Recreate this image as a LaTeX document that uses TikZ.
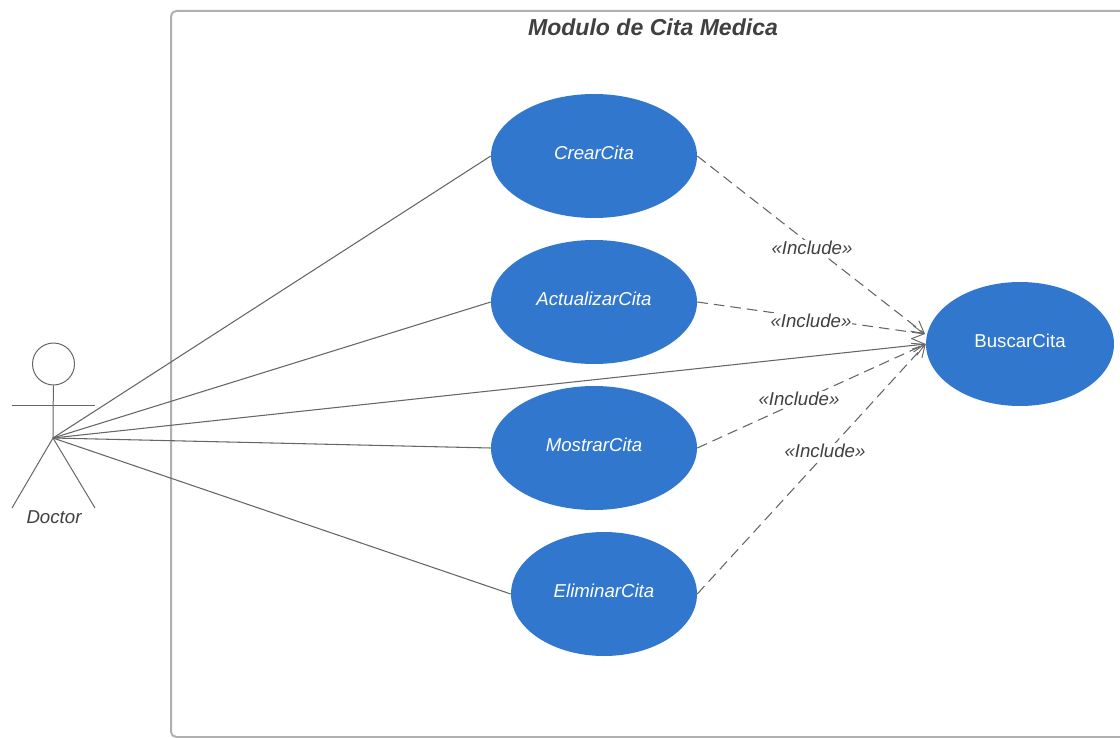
\documentclass[tikz,border=0pt]{standalone}
\usepackage{fontspec}
\setmainfont{Liberation Sans}
\usetikzlibrary{arrows.meta}
\usetikzlibrary{positioning, shapes.geometric}
\definecolor{usecaseblue}{HTML}{3177CE}
\definecolor{inkgray}{HTML}{404040}
\definecolor{linegray}{HTML}{666666}
\definecolor{framegray}{HTML}{B0B0B0}
\tikzset{
	usecase/.style = {
		ellipse,
		fill=usecaseblue,
		text=white,
		inner sep=0mm,
		minimum height=93pt,
		text height=10pt,
		text depth=4.5pt,
		font=\fontsize{14}{16}\selectfont\itshape
	},
	limb/.style = {
		draw=linegray,
		line width=0.75pt
	},
	assoc/.style = {
		draw=linegray,
		line width=0.8pt
	},
	incl/.style = {
		draw=linegray,
		line width=0.8pt,
		dash pattern=on 8pt off 4.5pt,
		-{Straight Barb[length=9pt,width=10pt,line width=0.7pt]}
	},
	incllabel/.style = {
		fill=white,
		text=inkgray,
		inner sep=0.5pt,
		font=\fontsize{14}{16}\selectfont\itshape
	}
}

\begin{document}
\begin{tikzpicture}[
		x=0.75pt,
		y=-0.75pt,
	]

	% The canvas, in pixels of the reference
	\useasboundingbox (0,0) rectangle (1120,738);

	% Draw the system frame
	\draw[framegray, line width=1.5pt, rounded corners=4pt]
		(1120,11) -- (171,11) -- (171,737) -- (1120,737);
	\node (title) [text=inkgray, font=\fontsize{17.3}{20}\selectfont\bfseries\itshape] at (653,27)
		{Modulo de Cita Medica};

	% Draw the actor
	\node (head) [circle, draw=linegray, line width=0.75pt, minimum size=31.5pt, inner sep=0mm] at (53.5,364) {};
	\coordinate (hip) at (53,438);
	\coordinate (handl) at (12,405);
	\coordinate (handr) at (95,405);
	\coordinate (footl) at (12,508);
	\coordinate (footr) at (95,508);
	\draw[limb] (head) -- (hip);
	\draw[limb] (handl) -- (handr);
	\draw[limb] (footl) -- (hip) -- (footr);
	\node (doctor) [text=inkgray, font=\fontsize{14}{16}\selectfont\itshape] at (54,517) {Doctor};

	% Draw the use cases
	\node (crear) [usecase, minimum width=154.5pt] at (594,156) {CrearCita};
	\node (actualizar) [usecase, minimum width=154.5pt] at (594,302) {ActualizarCita};
	\node (mostrar) [usecase, minimum width=154.5pt] at (594,448) {MostrarCita};
	\node (eliminar) [usecase, minimum width=139.5pt] at (604,594) {EliminarCita};
	\node (buscar) [usecase, minimum width=141pt, font=\fontsize{14}{16}\selectfont] at (1020,344) {BuscarCita};

	% Where the upper includes arrive
	\coordinate (buscartop) at (925,334);

	% Doctor to the use cases
	\draw[assoc] (hip) -- (crear.west);
	\draw[assoc] (hip) -- (actualizar.west);
	\draw[assoc] (hip) -- (mostrar.west);
	\draw[assoc] (hip) -- (eliminar.west);
	\draw[assoc, -{Straight Barb[length=9pt,width=10pt,line width=0.7pt]}] (hip) -- (buscar.west);

	% The includes
	\draw[incl] (crear.east) -- (buscartop);
	\draw[incl] (actualizar.east) -- (buscartop);
	\draw[incl] (mostrar.east) -- (buscar.west);
	\draw[incl] (eliminar.east) -- (buscar.west);

	\node (inclcrear) [incllabel] at (812,248) {«Include»};
	\node (inclactualizar) [incllabel] at (811,321) {«Include»};
	\node (inclmostrar) [incllabel] at (799,399) {«Include»};
	\node (incleliminar) [incllabel] at (825,451) {«Include»};

\end{tikzpicture}
\end{document}
